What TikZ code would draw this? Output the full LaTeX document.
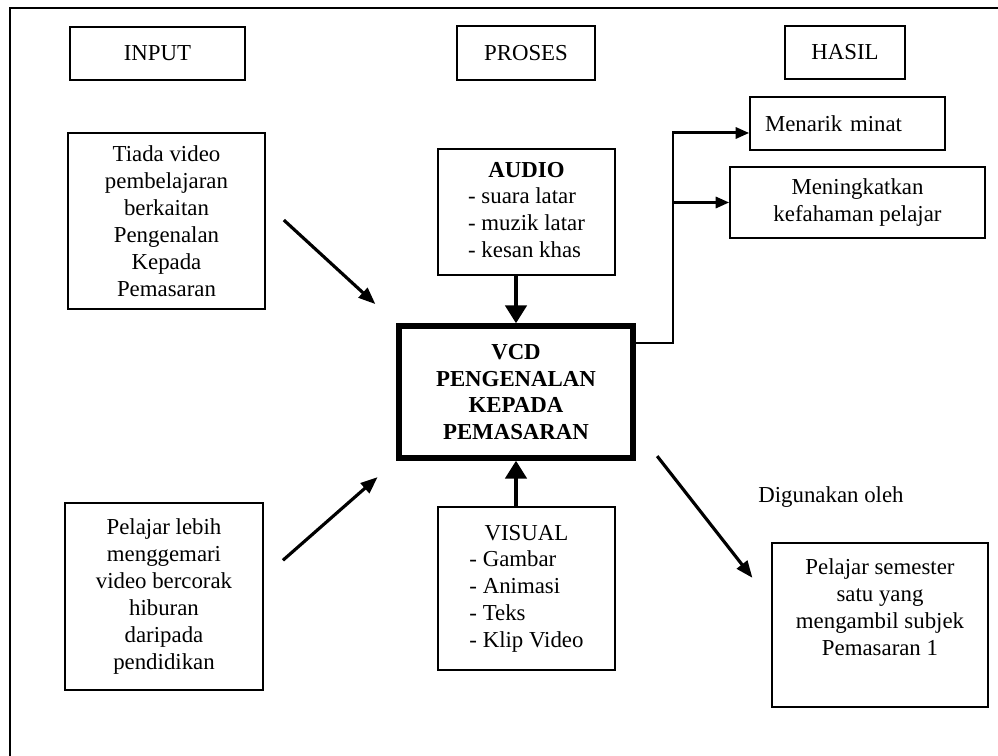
\documentclass[tikz,border=0pt]{standalone}
\usepackage{fontspec}
\setmainfont{Liberation Serif}
\usepackage{tikz}
\usetikzlibrary{arrows.meta,positioning,calc}

\begin{document}
\begin{tikzpicture}[x=0.02cm, y=-0.02cm,
      box/.style={rectangle, draw, line width=0.9pt, align=center, inner sep=4pt,
                  font=\fontsize{13}{15.3}\selectfont},
      head/.style={box, minimum height=1.07cm},
      part/.style={box, line width=1.6pt},
      core/.style={box, line width=3pt, font=\fontsize{13}{15.3}\selectfont\bfseries},
      arr/.style={-{Triangle[length=0.34cm, width=0.26cm]}, line width=1.8pt},
      sarr/.style={-{Triangle[length=0.27cm, width=0.22cm]}, line width=1.7pt},
      bigarr/.style={-{Triangle[length=0.36cm, width=0.42cm]}, line width=2.8pt},
      lbl/.style={font=\fontsize{13}{15.3}\selectfont},
    ]
    \useasboundingbox (0,0) rectangle (998,756);

    % Outer frame (cut off at the page edge)
    \draw[line width=0.7pt] (10,770) -- (10,8) -- (1010,8);

    % Column headers
    \node[head, minimum width=3.5cm] (input) at (157.5,53.5) {INPUT};
    \node[head, minimum width=2.76cm] (proses) at (526,53) {PROSES};
    \node[head, minimum width=2.4cm] (hasil) at (845,52.5) {HASIL};

    % Input column
    \node[box, minimum width=3.94cm, minimum height=3.52cm] (tiada) at (166.5,221)
      {Tiada video\\pembelajaran\\berkaitan\\Pengenalan\\Kepada\\Pemasaran};
    \node[box, minimum width=3.96cm, minimum height=3.74cm] (lebih) at (164,596.5)
      {Pelajar lebih\\menggemari\\video bercorak\\hiburan\\daripada\\pendidikan};

    % Process column
    \node[part, minimum width=3.54cm, minimum height=2.52cm] (audio) at (526.5,212)
      {\begin{tabular}{@{}l@{}}\multicolumn{1}{@{}c@{}}{\textbf{AUDIO}}\\
       - suara latar\\- muzik latar\\- kesan khas\end{tabular}};
    \node[core, minimum width=4.68cm, minimum height=2.64cm] (vcd) at (516,392)
      {VCD\\PENGENALAN\\KEPADA\\PEMASARAN};
    \node[part, minimum width=3.54cm, minimum height=3.26cm] (visual) at (526.5,588.5)
      {\begin{tabular}{@{}l@{}}\multicolumn{1}{@{}c@{}}{VISUAL}\\
       - Gambar\\- Animasi\\- Teks\\- Klip Video\end{tabular}};

    % Result column
    \node[box, minimum width=3.9cm, minimum height=1.06cm, align=left,
          text width=3.3cm] (menarik) at (847.5,123.5) {Menarik minat};
    \node[box, minimum width=5.1cm, minimum height=1.42cm] (meningkat) at (857.5,202.5)
      {Meningkatkan\\kefahaman pelajar};
    \node[box, minimum width=4.32cm, minimum height=3.28cm] (semester) at (880,625)
      {Pelajar semester\\satu yang\\mengambil subjek\\Pemasaran 1\\[5pt]\mbox{}};
    \node[lbl] (usedby) at (831,497) {Digunakan oleh};

    % Arrows: inputs to VCD
    \draw[arr, shorten <=0.49cm, shorten >=0.57cm] (tiada.10) -- (vcd.north west);
    \draw[arr, shorten <=0.51cm, shorten >=0.5cm] (lebih.11) -- (vcd.south west);

    % Arrows: audio and visual to VCD
    \draw[bigarr] (vcd.north |- audio.south) -- (vcd.north);
    \draw[bigarr] (vcd.south |- visual.north) -- (vcd.south);

    % Arrows: VCD to results
    \coordinate (split) at (673,343);
    \draw[sarr] (vcd.east |- split) -- (split) |- ([yshift=-0.19cm]menarik.west);
    \draw[sarr] (split |- meningkat.west) -- (meningkat.west);

    % Arrow: VCD to users
    \draw[arr, shorten <=0.7cm, shorten >=0.61cm] (vcd.-17) -- (semester.168);

\end{tikzpicture}
\end{document}
